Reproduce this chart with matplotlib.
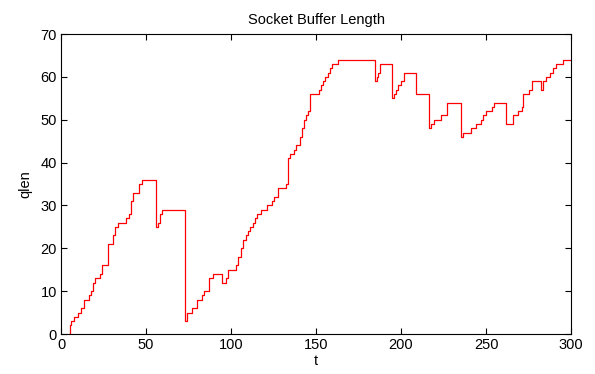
import matplotlib
matplotlib.use("Agg")
import matplotlib.pyplot as plt

plt.rcParams['font.family'] = ['Liberation Sans', 'DejaVu Sans']

t = [4.7, 5.2, 6.0, 7.6, 10.2, 11.6, 13.5, 16.5, 17.6, 18.6, 20.2, 23.0, 24.3, 27.8, 30.4, 31.6, 33.7, 38.2, 40.0, 41.0, 42.5, 46.0, 47.5,
     55.7, 56.9, 58.2, 59.6, 73.0, 74.3, 77.2, 79.8, 82.7, 84.3, 87.0, 89.6, 94.5, 96.8, 98.4, 102.8, 104.3, 106.1, 107.3,
     108.8, 110.2, 111.4, 113.1, 114.1, 115.3, 117.6, 121.0, 124.3, 125.5, 127.5, 132.2, 133.7, 134.7, 137.2, 138.0, 140.6, 141.6, 142.8, 143.9, 145.5, 146.5,
     151.8, 153.0, 154.3, 155.3, 156.9, 158.0, 159.2, 163.1, 184.7, 185.7, 186.7, 187.7, 194.9, 195.9, 196.9, 198.0, 199.8, 201.8, 208.8, 216.4,
     217.4, 219.4, 223.5, 227.3, 235.3, 236.7, 241.2, 243.9, 246.9, 248.0, 250.0, 253.3, 254.9, 261.6, 266.1, 269.0, 271.0, 272.0, 275.5, 276.9,
     282.4, 283.3, 285.3, 287.6, 289.2, 291.1, 295.0, 300.0]
qlen = [0, 2, 3, 4, 5, 6, 8, 9, 10, 12, 13, 14, 16, 21, 23, 25, 26, 27, 28, 31, 33, 35, 36,
        25, 26, 28, 29, 3, 5, 6, 8, 9, 10, 13, 14, 12, 13, 15, 16, 18, 20, 22,
        23, 24, 25, 26, 27, 28, 29, 30, 31, 32, 34, 35, 41, 42, 43, 44, 46, 48, 50, 51, 52, 56,
        57, 58, 59, 60, 61, 62, 63, 64, 59, 60, 61, 63, 55, 56, 57, 58, 59, 61, 56, 48,
        49, 50, 51, 54, 46, 47, 48, 49, 50, 51, 52, 53, 54, 49, 51, 52, 53, 56, 57, 59,
        57, 59, 60, 61, 62, 63, 64, 64]

xticks = [0, 50, 100, 150, 200, 250, 300]
yticks = [0, 10, 20, 30, 40, 50, 60, 70]

fig = plt.figure(figsize=(5.95, 3.74), dpi=100)
ax = fig.add_axes([61/595, 1-334/374, 510/595, 300/374])
ax.plot(t, qlen, drawstyle='steps-post', color='#ff0000', linewidth=0.9)
ax.set_xlim(0, 300)
ax.set_ylim(0, 70)
ax.set_xticks(xticks)
ax.set_yticks(yticks)
ax.tick_params(direction='in', top=True, right=True, length=4, width=0.8, labelsize=10.5, pad=3)
for s in ax.spines.values():
    s.set_linewidth(0.8)
ax.set_title('Socket Buffer Length', fontsize=10.5, pad=7)
ax.set_xlabel('t', fontsize=10.5, labelpad=1)
ax.set_ylabel('qlen', fontsize=10.5, labelpad=6)
fig.savefig('out.png', dpi=100)
